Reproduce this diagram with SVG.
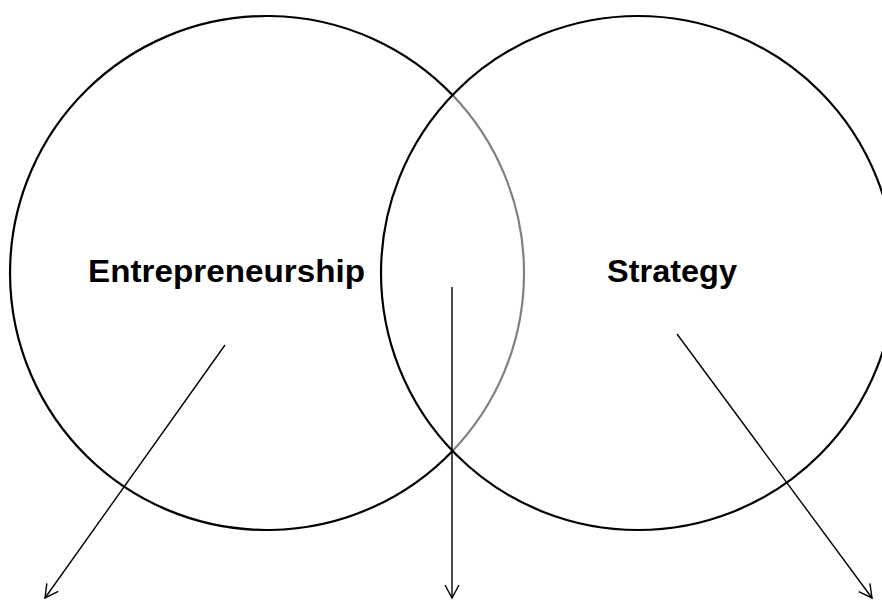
<svg xmlns="http://www.w3.org/2000/svg" width="882" height="600" viewBox="0 0 882 600">
<style>
.circ{fill:none;stroke:#000;stroke-width:2.2}
.gray{fill:none;stroke:#808080;stroke-width:2.2}
.lbl{font-family:"Liberation Sans",Arial,sans-serif;font-weight:bold;font-size:32px;fill:#000}
.arr{fill:none;stroke:#000;stroke-width:1.4;marker-end:url(#ah)}
</style>
<defs>
<marker id="ah" markerUnits="userSpaceOnUse" markerWidth="20" markerHeight="20" viewBox="0 0 20 20" refX="14" refY="10" orient="auto">
<path d="M1,3 L14,10 L1,17" fill="none" stroke="#000" stroke-width="1.4"/>
</marker>
</defs>
<rect width="882" height="600" fill="#fff"/>
<g id="entrepreneurship">
<path class="circ" d="M452.5,95.1 A257,257 0 1 0 452.5,450.9"/>
<path class="gray" d="M452.5,95.1 A257,257 0 0 1 452.5,450.9"/>
<text class="lbl" x="88" y="282" textLength="277" lengthAdjust="spacingAndGlyphs">Entrepreneurship</text>
</g>
<g id="strategy">
<circle class="circ" cx="638" cy="273" r="257"/>
<text class="lbl" x="607" y="282" textLength="130" lengthAdjust="spacingAndGlyphs">Strategy</text>
</g>
<g id="connectors">
<line class="arr" x1="225" y1="345" x2="45" y2="598"/>
<line class="arr" x1="452" y1="287" x2="452" y2="598"/>
<line class="arr" x1="677" y1="334" x2="872" y2="598"/>
</g>
</svg>
